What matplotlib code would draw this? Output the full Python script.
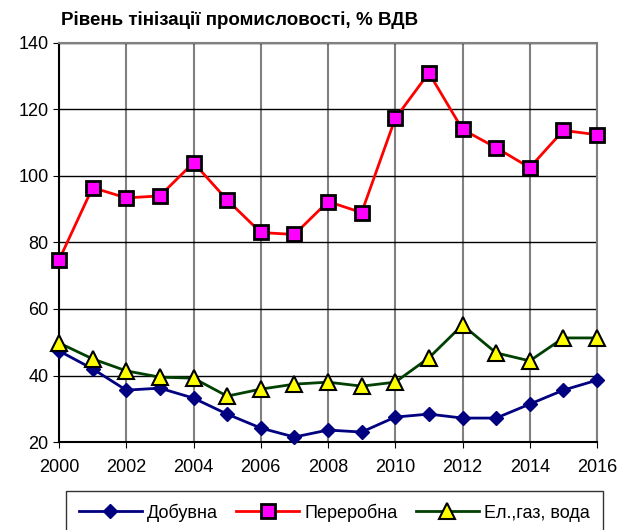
import numpy as np
from matplotlib import pyplot as plt

plt.rcParams['font.family'] = ['Liberation Sans', 'DejaVu Sans']

roky = list(range(2000, 2017))
dobuvna = [47.4, 42.0, 35.6, 36.2, 33.2, 28.4, 24.2, 21.5, 23.6, 23.0,
           27.5, 28.4, 27.2, 27.2, 31.4, 35.6, 38.6]
pererobna = [74.7, 96.5, 93.4, 94.0, 104.0, 92.8, 83.0, 82.4, 92.3, 89.0,
             117.3, 131.0, 114.0, 108.5, 102.5, 113.7, 112.4]
elgaz = [49.8, 45.0, 41.4, 39.5, 39.2, 33.8, 35.9, 37.4, 38.0, 36.8,
         38.0, 45.3, 55.2, 46.8, 44.4, 51.3, 51.3]

fig = plt.figure(figsize=(6.25, 5.30), dpi=100)
ax = fig.add_axes([0.0944, 0.166, 0.8608, 0.753])

ax.plot(roky, dobuvna, color='#000080', lw=2, marker='D', markersize=7,
        markerfacecolor='#000080', markeredgecolor='#000080', label='Добувна',
        zorder=3, clip_on=False)
ax.plot(roky, pererobna, color='red', lw=2, marker='s', markersize=10,
        markerfacecolor='#ff00ff', markeredgecolor='black', markeredgewidth=2,
        label='Переробна', zorder=3, clip_on=False)
ax.plot(roky, elgaz, color='#004000', lw=2, marker='^', markersize=11,
        markerfacecolor='yellow', markeredgecolor='black', markeredgewidth=1.5,
        label='Ел.,газ, вода', zorder=3, clip_on=False)

ax.set_xlim(2000, 2016)
ax.set_ylim(20, 140)
ax.set_xticks(range(2000, 2017, 2))
ax.set_yticks(range(20, 141, 20))
ax.tick_params(labelsize=13, length=4, color='black')
ax.tick_params(axis='x', pad=8)
ax.yaxis.grid(True, color='black', lw=1)
ax.xaxis.grid(True, color='#808080', lw=1.5)
ax.set_axisbelow(True)
for s in ax.spines.values():
    s.set_color('#808080')
    s.set_linewidth(1.5)
ax.spines['left'].set_color('black')
ax.spines['bottom'].set_color('black')

fig.text(0.384, 0.962, 'Рівень тінізації промисловості, % ВДВ', ha='center', va='center',
         fontsize=13.5, fontweight='bold')

leg = fig.legend(loc='lower left', bbox_to_anchor=(0.091, -0.025, 0.888, 0.1), mode='expand',
                 ncol=3, fontsize=13, frameon=True, fancybox=False, edgecolor='black',
                 handlelength=3.5, handletextpad=0.3, borderpad=0.7)
leg.get_frame().set_linewidth(1)

fig.savefig('out.png', dpi=100)
